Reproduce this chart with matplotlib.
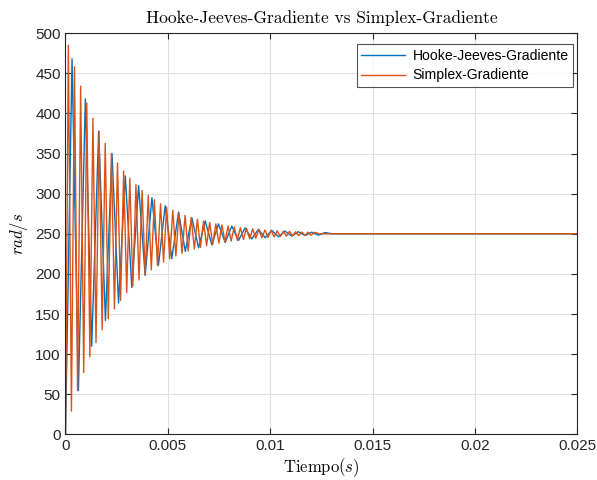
import matplotlib.pyplot as plt

plt.rcParams['mathtext.fontset'] = 'cm'
plt.rcParams['font.family'] = ['Liberation Sans', 'DejaVu Sans']

# Hooke-Jeeves-Gradiente: tiempos (ms) de los extremos y valores (rad/s)
hj_t = [0.0, 0.32, 0.63, 0.97, 1.28, 1.62, 1.95, 2.27, 2.59, 2.92, 3.24, 3.57, 3.89,
        4.22, 4.54, 4.87, 5.19, 5.52, 5.85, 6.17, 6.50, 6.82, 7.15, 7.47, 7.80, 8.12,
        8.45, 8.77, 9.10, 9.42, 9.75, 10.07, 10.40, 10.72, 11.05, 11.37, 11.70, 12.02,
        12.35, 12.67, 13.0, 25.0]
hj_w = [0, 468, 55, 418, 110, 378, 142, 350, 164, 322, 183, 310, 198,
        295, 211, 285, 219, 277, 228, 270, 232.5, 266, 236, 262.3, 239.2, 259.5,
        241.7, 257.3, 243.6, 255.6, 245.1, 254.3, 246.2, 253.3, 247.1, 252.6, 247.8, 252,
        248.3, 251.5, 250, 250]

# Simplex-Gradiente
sx_t = [0.0, 0.14, 0.29, 0.44, 0.59, 0.74, 0.89, 1.04, 1.19, 1.34, 1.49, 1.64, 1.79,
        1.94, 2.09, 2.24, 2.39, 2.54, 2.69, 2.84, 2.99, 3.14, 3.29, 3.44, 3.59, 3.74,
        3.89, 4.04, 4.19, 4.34, 4.49, 4.64, 4.79, 4.94, 5.09, 5.24, 5.39, 5.54, 5.69,
        5.84, 5.99, 6.14, 6.29, 6.44, 6.59, 6.74, 6.89, 7.04, 7.19, 7.34, 7.49, 7.64,
        7.79, 7.94, 8.09, 8.24, 8.39, 8.54, 8.69, 8.84, 8.99, 9.14, 9.29, 9.44, 9.59,
        9.74, 9.89, 10.04, 10.19, 10.34, 10.49, 10.64, 10.79, 10.94, 11.09, 11.24,
        11.39, 11.54, 11.69, 11.84, 11.99, 12.14, 12.4, 25.0]
sx_w = [0, 485, 29, 458, 54.4, 434, 77, 412.8, 96.9, 394, 114.5, 377.4, 130.2,
        362.7, 144, 349.7, 156.2, 338.2, 167, 328.1, 176.6, 319.1, 185, 311.1, 192.5,
        304.1, 199.2, 297.8, 205, 292.3, 210.2, 287.4, 214.8, 283.1, 218.8, 279.3,
        222.4, 275.9, 225.6, 272.9, 228.4, 270.3, 230.9, 268, 233.1, 265.9, 235.1,
        264, 236.8, 262.4, 238.3, 261, 239.7, 259.7, 240.8, 258.6, 241.9, 257.6,
        242.8, 256.7, 243.7, 256, 244.4, 255.3, 245, 254.7, 245.6, 254.1, 246.1,
        253.7, 246.5, 253.2, 247, 252.9, 247.3, 252.5, 247.6, 252.3, 247.9, 252,
        248.1, 251.8, 250, 250]

fig = plt.figure(figsize=(5.97, 4.8), dpi=100)
ax = fig.add_axes([0.1097, 0.095, 0.8576, 0.836])

ax.plot([t / 1000 for t in hj_t], hj_w, color='#0072BD', lw=1.0, label='Hooke-Jeeves-Gradiente')
ax.plot([t / 1000 for t in sx_t], sx_w, color='#D95319', lw=1.0, label='Simplex-Gradiente')

ax.set_xlim(0, 0.025)
ax.set_ylim(0, 500)
ax.set_xticks([0, 0.005, 0.01, 0.015, 0.02, 0.025])
ax.set_xticklabels(['0', '0.005', '0.01', '0.015', '0.02', '0.025'])
ax.set_yticks(range(0, 501, 50))

ax.grid(True, color='#dfdfdf', lw=0.8)
ax.set_axisbelow(True)
for s in ax.spines.values():
    s.set_color('#262626')
    s.set_linewidth(0.8)
ax.tick_params(direction='in', top=True, right=True, labelsize=11, colors='#262626',
               length=4, width=0.8)

ax.set_title('Hooke-Jeeves-Gradiente vs Simplex-Gradiente', fontfamily='cmr10', fontsize=12.5,
             pad=7)
ax.set_xlabel(r'Tiempo$(s)$', fontfamily='cmr10', fontsize=12, labelpad=2)
ax.set_ylabel(r'$rad/s$', fontfamily='cmr10', fontsize=12, labelpad=4)

leg = ax.legend(loc='upper right', bbox_to_anchor=(0.991, 0.972), fontsize=10.1,
                frameon=True, fancybox=False, edgecolor='#262626', borderpad=0.3,
                labelspacing=0.42, handlelength=3.1, handletextpad=0.55, borderaxespad=0)
leg.get_frame().set_linewidth(0.8)

fig.savefig('out.png', dpi=100)
